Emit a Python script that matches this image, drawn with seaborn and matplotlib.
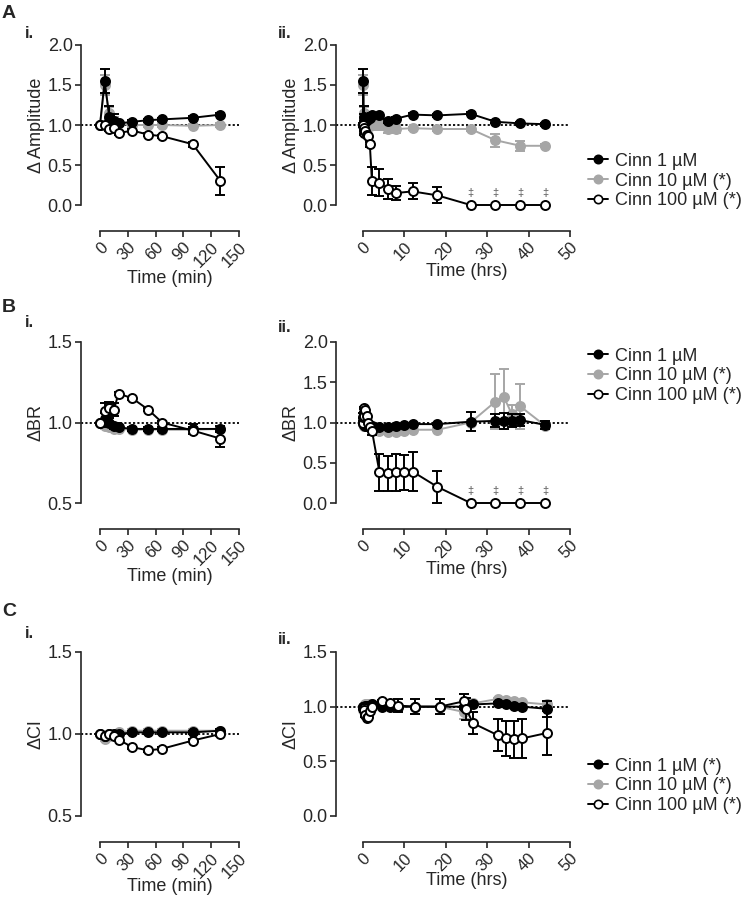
import matplotlib

matplotlib.use("Agg")
import matplotlib.pyplot as plt
import seaborn as sns
from matplotlib.lines import Line2D

# ---- time points ----
t_min = [0, 5, 10, 15, 20, 35, 52, 67, 100, 130]
t_early_hr = [0, 0.08, 0.17, 0.25, 0.33, 0.58, 0.87, 1.12, 1.67, 2.17]

# ---- A: amplitude ----
amp1 = [1.0, 1.55, 1.1, 1.05, 1.02, 1.04, 1.06, 1.07, 1.09, 1.13]
amp1_err = [0, 0.15, 0.14, 0.09, 0.03, 0.02, 0.02, 0.02, 0.02, 0.02]
amp10 = [1.0, 1.5, 1.15, 1.05, 1.02, 1.0, 1.0, 1.0, 0.99, 1.0]
amp10_err = [0, 0.12, 0.08, 0.05, 0.03, 0.02, 0.02, 0.02, 0.02, 0.02]
amp100 = [1.0, 1.0, 0.95, 0.96, 0.9, 0.93, 0.88, 0.86, 0.76, 0.3]
amp100_err = [0, 0.02, 0.02, 0.02, 0.02, 0.02, 0.02, 0.02, 0.03, 0.18]

amp_hr_t = [4, 6, 8, 12, 18, 26, 32, 38, 44]
amp1_hr = [1.12, 1.05, 1.08, 1.13, 1.12, 1.14, 1.04, 1.02, 1.01]
amp1_hr_err = [0.02, 0.02, 0.02, 0.02, 0.02, 0.02, 0.02, 0.02, 0.02]
amp10_hr = [1.0, 0.95, 0.95, 0.96, 0.95, 0.95, 0.81, 0.74, 0.74]
amp10_hr_err = [0.06, 0.05, 0.05, 0.02, 0.02, 0.02, 0.08, 0.06, 0.02]
amp100_hr = [0.28, 0.2, 0.15, 0.17, 0.12, 0.0, 0.0, 0.0, 0.0]
amp100_hr_err = [0.17, 0.12, 0.09, 0.1, 0.1, 0, 0, 0, 0]

# ---- B: burst rate ----
br1 = [1.0, 1.02, 1.0, 0.98, 0.97, 0.96, 0.96, 0.96, 0.96, 0.96]
br1_err = [0, 0.04, 0.03, 0.02, 0.01, 0.01, 0.01, 0.01, 0.03, 0.02]
br10 = [1.0, 0.98, 0.97, 0.96, 0.96, 0.955, 0.955, 0.955, 0.955, 0.96]
br10_err = [0, 0.02, 0.01, 0.01, 0.01, 0.01, 0.01, 0.01, 0.01, 0.01]
br100 = [1.0, 1.07, 1.09, 1.08, 1.18, 1.15, 1.08, 1.0, 0.95, 0.9]
br100_err = [0, 0.05, 0.04, 0.04, 0.01, 0.01, 0.01, 0.01, 0.02, 0.05]

br_hr_t = [4, 6, 8, 10, 12, 18, 26, 32, 34, 36, 38, 44]
br1_hr = [0.95, 0.95, 0.96, 0.97, 0.98, 0.98, 1.01, 1.02, 1.02, 1.02, 1.03, 0.97]
br1_hr_err = [0.01, 0.01, 0.01, 0.01, 0.01, 0.01, 0.12, 0.08, 0.1, 0.08, 0.07, 0.05]
br10_hr = [0.9, 0.88, 0.88, 0.9, 0.91, 0.91, 1.0, 1.26, 1.32, 1.1, 1.2, 0.96]
br10_hr_err = [0.02, 0.02, 0.02, 0.02, 0.02, 0.02, 0.03, 0.34, 0.35, 0.12, 0.28, 0.04]
br100_hr_t = [4, 6, 8, 10, 12, 18, 26, 32, 38, 44]
br100_hr = [0.38, 0.37, 0.38, 0.38, 0.39, 0.2, 0.0, 0.0, 0.0, 0.0]
br100_hr_err = [0.23, 0.22, 0.23, 0.22, 0.24, 0.2, 0, 0, 0, 0]

# ---- C: coherence index ----
ci1 = [1.0, 0.99, 1.0, 1.0, 1.0, 1.01, 1.01, 1.01, 1.01, 1.02]
ci1_err = [0, 0.01, 0.01, 0.01, 0.01, 0.01, 0.01, 0.01, 0.01, 0.01]
ci10 = [1.0, 0.97, 0.99, 1.0, 1.01, 1.02, 1.02, 1.02, 1.02, 1.02]
ci10_err = [0, 0.01, 0.01, 0.01, 0.01, 0.01, 0.01, 0.01, 0.01, 0.01]
ci100 = [1.0, 0.99, 1.0, 0.99, 0.965, 0.92, 0.9, 0.91, 0.96, 1.0]
ci100_err = [0, 0.01, 0.01, 0.01, 0.01, 0.01, 0.01, 0.01, 0.01, 0.01]

ci_hr_t = [4.5, 6.5, 8.5, 12.5, 18.5, 24.5, 26.5, 32.5, 34.5, 36.5, 38.5, 44.5]
ci1_hr = [1.0, 1.0, 1.0, 1.0, 1.0, 1.0, 1.02, 1.03, 1.02, 1.01, 1.0, 0.98]
ci1_hr_err = [0.01, 0.01, 0.01, 0.01, 0.01, 0.01, 0.01, 0.01, 0.01, 0.01, 0.01, 0.07]
ci10_hr = [1.02, 1.02, 1.0, 1.0, 1.0, 0.95, 1.03, 1.07, 1.06, 1.05, 1.04, 1.02]
ci10_hr_err = [0.01, 0.01, 0.01, 0.01, 0.01, 0.06, 0.01, 0.01, 0.01, 0.01, 0.01, 0.01]
ci100_hr_t = [4.5, 6.5, 8.5, 12.5, 18.5, 24.5, 25, 26.5, 32.5, 34.5, 36.5, 38.5, 44.5]
ci100_hr = [1.05, 1.03, 1.01, 1.0, 1.0, 1.05, 0.98, 0.85, 0.74, 0.71, 0.7, 0.71, 0.76]
ci100_hr_err = [0.01, 0.01, 0.06, 0.07, 0.07, 0.07, 0.1, 0.1, 0.15, 0.16, 0.17, 0.18, 0.2]

legend_ab = ["Cinn 1 µM", "Cinn 10 µM (*)", "Cinn 100 µM (*)"]
legend_c = ["Cinn 1 µM (*)", "Cinn 10 µM (*)", "Cinn 100 µM (*)"]
dagger_t = [26, 32, 38, 44]

GREY = "#a6a6a6"
STYLES = [
    dict(color=GREY, mfc=GREY, mec=GREY, z=3),  # 10 uM
    dict(color="black", mfc="black", mec="black", z=4),  # 1 uM
    dict(color="black", mfc="white", mec="black", z=5),  # 100 uM
]

sns.set_theme(style="ticks")
plt.rcParams["font.family"] = ["Liberation Sans", "DejaVu Sans"]
plt.rcParams["axes.linewidth"] = 1.2
plt.rcParams["xtick.major.width"] = 1.2
plt.rcParams["ytick.major.width"] = 1.2
plt.rcParams["xtick.major.size"] = 4
plt.rcParams["ytick.major.size"] = 4

W, H = 745, 900
fig = plt.figure(figsize=(W / 100, H / 100), dpi=100)


def px_axes(x0, x1, y0, y1):
    return fig.add_axes([x0 / W, 1 - y1 / H, (x1 - x0) / W, (y1 - y0) / H])


def draw(ax, series, xlim, xticks, ylim, yticks, xlabel, ylabel, xpad=0):
    # series order: 10 uM, 1 uM, 100 uM
    for (x, y, err), st in zip(series, STYLES):
        ax.errorbar(x, y, yerr=err, fmt="none", ecolor=st["color"], elinewidth=1.4,
                    capsize=3.5, capthick=1.4, clip_on=False, zorder=st["z"])
        sns.lineplot(x=x, y=y, ax=ax, color=st["color"], marker="o", markersize=6.5,
                     mfc=st["mfc"], mec=st["mec"], mew=1.4, lw=1.4, estimator=None,
                     errorbar=None, sort=False, clip_on=False, zorder=st["z"] + 0.5)
    ax.axhline(1.0, ls=(0, (1.2, 1.2)), color="black", lw=1.3, zorder=2)
    ax.set_xlim(*xlim)
    ax.set_ylim(*ylim)
    ax.set_xticks(xticks)
    ax.set_yticks(yticks)
    ax.set_yticklabels([f"{v:.1f}" for v in yticks])
    ax.spines[["top", "right"]].set_visible(False)
    ax.spines["bottom"].set_position(("outward", 19))
    ax.spines["bottom"].set_bounds(xticks[0], xticks[-1])
    ax.spines["left"].set_bounds(ylim[0], ylim[1])
    ax.tick_params(axis="y", labelsize=13, pad=2)
    ax.tick_params(axis="x", labelsize=12, pad=2)
    for lbl in ax.get_xticklabels():
        lbl.set_rotation(45)
        lbl.set_ha("right")
        lbl.set_rotation_mode("anchor")
    ax.set_xlabel(xlabel, fontsize=13, labelpad=xpad)
    # centre the label under the detached x spine
    ax.xaxis.label.set_x(((xticks[0] + xticks[-1]) / 2 - xlim[0]) / (xlim[1] - xlim[0]))
    ax.set_ylabel(ylabel, fontsize=13, labelpad=2)
    ax.grid(False)


def legend(ax, labels, ycenter):
    handles = [Line2D([], [], color=st["color"], marker="o", markersize=6, mfc=st["mfc"],
                      mec=st["mec"], mew=1.2, lw=1.4) for st in (STYLES[1], STYLES[0], STYLES[2])]
    ax.legend(handles, labels, loc="center left", bbox_to_anchor=(588 / W, 1 - ycenter / H),
              bbox_transform=fig.transFigure, frameon=False, fontsize=13, handlelength=1.1,
              handletextpad=0.4, labelspacing=0.15, borderpad=0, borderaxespad=0)


min_ticks = [0, 30, 60, 90, 120, 150]
hr_ticks = [0, 10, 20, 30, 40, 50]
rows = [(45, 205), (342, 503), (652, 816)]

# A
ax = px_axes(81, 239, *rows[0])
draw(ax, [(t_min, amp10, amp10_err), (t_min, amp1, amp1_err), (t_min, amp100, amp100_err)],
     (-20.5, 150), min_ticks, (0, 2), [0, 0.5, 1.0, 1.5, 2.0], "Time (min)", "Δ Amplitude")
ax = px_axes(336, 570, *rows[0])
draw(ax, [(t_early_hr + amp_hr_t, amp10 + amp10_hr, amp10_err + amp10_hr_err),
          (t_early_hr + amp_hr_t, amp1 + amp1_hr, amp1_err + amp1_hr_err),
          (t_early_hr + amp_hr_t, amp100 + amp100_hr, amp100_err + amp100_hr_err)],
     (-6.5, 50), hr_ticks, (0, 2), [0, 0.5, 1.0, 1.5, 2.0], "Time (hrs)", "Δ Amplitude")
for t in dagger_t:
    ax.text(t, 0.15, "‡", ha="center", va="center", fontsize=8, color="#555555")
legend(ax, legend_ab, 181)

# B
ax = px_axes(81, 239, *rows[1])
draw(ax, [(t_min, br10, br10_err), (t_min, br1, br1_err), (t_min, br100, br100_err)],
     (-20.5, 150), min_ticks, (0.5, 1.5), [0.5, 1.0, 1.5], "Time (min)", "ΔBR")
ax = px_axes(336, 570, *rows[1])
draw(ax, [(t_early_hr + br_hr_t, br10 + br10_hr, br10_err + br10_hr_err),
          (t_early_hr + br_hr_t, br1 + br1_hr, br1_err + br1_hr_err),
          (t_early_hr + br100_hr_t, br100 + br100_hr, br100_err + br100_hr_err)],
     (-6.5, 50), hr_ticks, (0, 2), [0, 0.5, 1.0, 1.5, 2.0], "Time (hrs)", "ΔBR")
for t in dagger_t:
    ax.text(t, 0.15, "‡", ha="center", va="center", fontsize=8, color="#555555")
legend(ax, legend_ab, 376)

# C
ax = px_axes(81, 239, *rows[2])
draw(ax, [(t_min, ci10, ci10_err), (t_min, ci1, ci1_err), (t_min, ci100, ci100_err)],
     (-20.5, 150), min_ticks, (0.5, 1.5), [0.5, 1.0, 1.5], "Time (min)", "ΔCI", -2)
ax = px_axes(336, 570, *rows[2])
draw(ax, [(t_early_hr + ci_hr_t, ci10 + ci10_hr, ci10_err + ci10_hr_err),
          (t_early_hr + ci_hr_t, ci1 + ci1_hr, ci1_err + ci1_hr_err),
          (t_early_hr + ci100_hr_t, ci100 + ci100_hr, ci100_err + ci100_hr_err)],
     (-6.5, 50), hr_ticks, (0, 1.5), [0, 0.5, 1.0, 1.5], "Time (hrs)", "ΔCI", -2)
legend(ax, legend_c, 786)

# panel letters
for letter, y in [("A", 13), ("B", 308), ("C", 612)]:
    fig.text(9 / W, 1 - y / H, letter, fontsize=14, fontweight="bold", ha="center", va="center")
for lbl, x, y in [("i.", 29, 33), ("ii.", 285, 33), ("i.", 29, 323), ("ii.", 285, 328),
                  ("i.", 29, 633), ("ii.", 285, 640)]:
    fig.text(x / W, 1 - y / H, lbl, fontsize=12, fontweight="bold", ha="center", va="center")

fig.savefig("out.png", dpi=100)
